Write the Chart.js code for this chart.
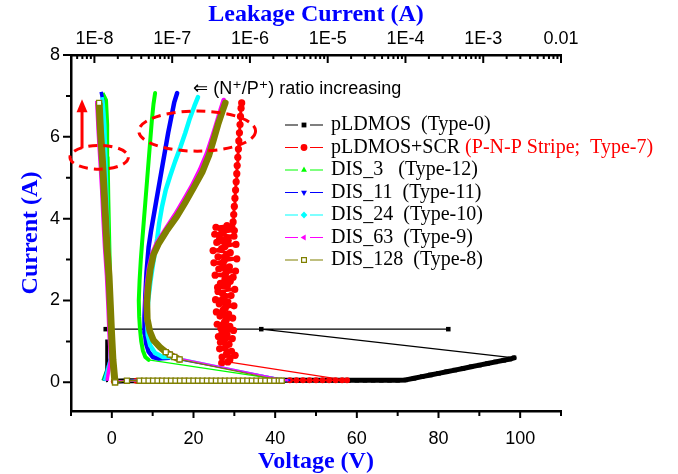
<!DOCTYPE html>
<html>
<head>
<meta charset="utf-8">
<title>TLP I-V and leakage</title>
<script src="https://cdn.jsdelivr.net/npm/chart.js@4.4.1/dist/chart.umd.min.js"></script>
<style>
  html, body { margin: 0; background: #ffffff; }
  canvas { display: block; }
</style>
</head>
<body>
<canvas id="tlp" width="678" height="474"></canvas>
<script>
// ---------- axes ----------
const X_TICKS = [0, 20, 40, 60, 80, 100];
const X_MINOR = [-10, 10, 30, 50, 70, 90, 110];
const Y_TICKS = [0, 2, 4, 6, 8];
const Y_MINOR = [1, 3, 5, 7];
const TOP_TICKS = [1e-8, 1e-7, 1e-6, 1e-5, 1e-4, 1e-3, 1e-2];
const TOP_LABELS = ['1E-8', '1E-7', '1E-6', '1E-5', '1E-4', '1E-3', '0.01'];

// ---------- legend text ----------
const NAMES = ['pLDMOS', 'pLDMOS+SCR', 'DIS_3', 'DIS_11', 'DIS_24', 'DIS_63', 'DIS_128'];
const GAPS = ['  ', ' ', '   ', '  ', '  ', '  ', '  '];
const TYPES = ['(Type-0)', '(P-N-P Stripe;  Type-7)', '(Type-12)', '(Type-11)', '(Type-10)', '(Type-9)', '(Type-8)'];

// ---------- TLP curves: voltage (V) / current (A) ----------
const PLD_V = [0.5, 4, 8, 12, 16, 20, 24, 28, 32, 36, 40,
  42, 44, 46, 48, 50, 52, 54, 56, 58, 60, 62, 64, 66, 68, 70, 72,
  74, 76, 78, 80, 82, 84, 86, 88, 90, 92, 94, 96, 97.5, 98.5,
  36.6, 82.4, -1.5];
const PLD_I = [0.03, 0.04, 0.04, 0.04, 0.04, 0.04, 0.04, 0.04, 0.04, 0.04, 0.04,
  0.05, 0.05, 0.05, 0.05, 0.05, 0.05, 0.05, 0.05, 0.05, 0.05, 0.05, 0.05, 0.05, 0.05, 0.05, 0.06,
  0.10, 0.14, 0.18, 0.22, 0.26, 0.30, 0.34, 0.38, 0.42, 0.46, 0.50, 0.54, 0.57, 0.60,
  1.30, 1.30, 1.30];

const SCR_V = [0.5, 6, 12, 18, 24, 30, 36, 40, 43.6, 45.2, 46.8, 48.4, 50.0, 51.6, 53.2, 54.8, 56.4, 57.6,
  28.4, 26.9, 28.9, 30.2, 27.0, 28.1, 29.3, 26.4, 27.9, 28.7,
  26.6, 27.4, 29.5, 26.1, 28.2, 27.0, 29.8, 26.7, 28.9, 25.8,
  27.6, 28.0, 29.6, 26.5, 28.6, 25.6, 27.3, 27.8, 29.9, 26.3,
  28.4, 25.4, 27.5, 29.2, 27.1, 26.0, 30.1, 25.9, 28.3, 26.6,
  29.0, 27.7, 29.7, 25.3, 27.9, 30.3, 26.2, 28.8, 27.2, 25.0,
  27.5, 30.6, 26.0, 28.1, 29.0, 24.8, 26.9, 27.7, 30.4, 25.7,
  28.5, 26.4, 29.9, 25.2, 27.3, 30.0, 26.8, 25.5, 28.2, 29.4,
  29.7, 29.85, 30.0, 30.15, 30.3, 30.45, 30.6, 30.7, 30.85, 31.0, 31.1, 31.25, 31.4, 31.5, 31.65, 31.8];
const SCR_I = [0.03, 0.04, 0.04, 0.04, 0.04, 0.04, 0.04, 0.04, 0.05, 0.05, 0.05, 0.05, 0.05, 0.05, 0.05, 0.05, 0.05, 0.05,
  0.50, 0.47, 0.55, 0.66, 0.62, 0.70, 0.76, 0.82, 0.88, 0.93,
  0.98, 1.03, 1.07, 1.12, 1.17, 1.22, 1.27, 1.32, 1.37, 1.42,
  1.47, 1.52, 1.57, 1.62, 1.67, 1.72, 1.77, 1.82, 1.87, 1.92,
  1.97, 2.02, 2.07, 2.12, 2.17, 2.22, 2.27, 2.32, 2.37, 2.42,
  2.47, 2.52, 2.57, 2.62, 2.67, 2.72, 2.77, 2.82, 2.87, 2.92,
  2.97, 3.02, 3.07, 3.12, 3.17, 3.22, 3.27, 3.32, 3.37, 3.42,
  3.47, 3.52, 3.57, 3.62, 3.67, 3.71, 3.75, 3.79, 3.83, 3.80,
  3.92, 4.1, 4.3, 4.5, 4.7, 4.9, 5.1, 5.3, 5.5, 5.7, 5.9, 6.1, 6.3, 6.5, 6.7, 6.83];

const D3_V = [0.5, 5, 10, 15, 20, 25, 30, 35, 40, 42.5,
  9.0, 8.2, 7.6, 7.2, 6.9, 6.7, 6.6, 6.8, 7.1, 7.4, 7.8, 8.2, 8.6, 9.0, 9.4, 9.8, 10.2, 10.6];
const D3_I = [0.03, 0.04, 0.04, 0.04, 0.04, 0.04, 0.04, 0.04, 0.05, 0.05,
  0.55, 0.62, 0.78, 1.0, 1.3, 1.6, 2.0, 2.5, 3.0, 3.4, 3.9, 4.4, 4.9, 5.4, 5.9, 6.4, 6.8, 7.07];

const D11_V = [0.5, 5, 10, 15, 20, 25, 30, 35, 40, 43.5,
  14.0, 11.5, 10.0, 9.0, 8.4, 8.1, 8.0, 8.2, 8.5, 9.0, 9.6, 10.3, 11.0, 11.7, 12.4, 13.1, 13.8, 14.6, 15.3, 16.0];
const D11_I = [0.03, 0.04, 0.04, 0.04, 0.04, 0.04, 0.04, 0.04, 0.05, 0.05,
  0.60, 0.58, 0.62, 0.75, 0.95, 1.2, 1.6, 2.1, 2.7, 3.3, 3.7, 4.1, 4.5, 4.9, 5.3, 5.7, 6.1, 6.5, 6.85, 7.07];

const D24_V = [0.5, 5, 10, 15, 20, 25, 30, 35, 40, 43.0,
  15.5, 12.5, 10.6, 9.4, 8.8, 8.6, 8.9, 9.5, 10.1, 10.6, 11.1, 11.6, 12.3, 13.2, 14.3, 15.5, 16.8, 18.0, 19.1, 20.2, 21.1];
const D24_I = [0.03, 0.04, 0.04, 0.04, 0.04, 0.04, 0.04, 0.04, 0.05, 0.05,
  0.62, 0.62, 0.72, 0.9, 1.15, 1.5, 2.0, 2.5, 2.9, 3.2, 3.5, 3.9, 4.3, 4.7, 5.05, 5.4, 5.75, 6.1, 6.45, 6.75, 6.97];

const D63_V = [0.5, 5, 10, 15, 20, 25, 30, 35, 40, 43.0,
  16.2, 14.0, 11.8, 10.0, 9.0, 8.4, 8.3, 8.6, 9.1, 9.9, 11.0, 13.0, 15.5, 17.6, 19.6, 21.6, 23.3, 24.6, 25.7, 26.6, 27.4];
const D63_I = [0.03, 0.04, 0.04, 0.04, 0.04, 0.04, 0.04, 0.04, 0.05, 0.05,
  0.60, 0.72, 0.86, 1.06, 1.3, 1.6, 2.0, 2.4, 2.8, 3.15, 3.4, 3.72, 4.1, 4.45, 4.8, 5.2, 5.6, 6.0, 6.35, 6.65, 6.9];

const D128_V = [0.8, 3.7, 6.8, 7.9, 9.0, 10.1, 11.2, 12.3, 13.4, 14.5, 15.6, 16.7, 17.8, 18.9, 20.0, 21.1,
  22.2, 23.3, 24.4, 25.5, 26.6, 27.7, 28.8, 29.9, 31.0, 32.1, 33.2, 34.3, 35.4, 36.5, 37.6, 38.7, 39.8, 40.9, 41.6,
  16.6, 15.3, 14.2, 13.2, 11.8, 10.2, 9.3, 8.7, 8.6, 8.9, 9.4, 10.2, 11.4, 13.4, 15.9, 18.0, 20.0, 22.2,
  23.8, 25.0, 26.0, 27.0, 27.8];
const D128_I = [0.0, 0.04, 0.04, 0.04, 0.04, 0.04, 0.04, 0.04, 0.04, 0.04, 0.04, 0.04, 0.04, 0.04, 0.04, 0.04,
  0.04, 0.04, 0.04, 0.04, 0.04, 0.04, 0.04, 0.04, 0.04, 0.04, 0.04, 0.04, 0.04, 0.04, 0.04, 0.04, 0.04, 0.04, 0.04,
  0.56, 0.62, 0.68, 0.74, 0.86, 1.03, 1.25, 1.55, 1.95, 2.35, 2.75, 3.12, 3.38, 3.70, 4.05, 4.40, 4.75, 5.15,
  5.55, 5.95, 6.30, 6.60, 6.83];

// ---------- leakage after each pulse: leakage (A) / current (A) ----------
const LK_PLD_A = [1.41e-8, 1.45e-8, 1.44e-8, 1.43e-8];
const LK_PLD_I = [0.04, 0.45, 0.75, 1.05];
const LK_SCR_A = [];
const LK_SCR_I = [];
const LK_D3_A = [1.29e-8, 1.65e-8, 1.63e-8, 1.60e-8, 1.56e-8, 1.52e-8, 1.49e-8, 1.47e-8, 1.42e-8, 1.28e-8];
const LK_D3_I = [0.04, 0.6, 1.5, 2.5, 3.5, 4.5, 5.5, 6.3, 6.9, 7.07];
const LK_D11_A = [1.33e-8, 1.62e-8, 1.58e-8, 1.54e-8, 1.48e-8, 1.42e-8, 1.37e-8, 1.33e-8, 1.28e-8, 1.22e-8];
const LK_D11_I = [0.04, 0.6, 1.5, 2.5, 3.5, 4.5, 5.5, 6.3, 6.9, 7.1];
const LK_D24_A = [1.35e-8, 1.63e-8, 1.60e-8, 1.56e-8, 1.51e-8, 1.45e-8, 1.40e-8, 1.36e-8, 1.30e-8, 1.25e-8];
const LK_D24_I = [0.04, 0.6, 1.5, 2.5, 3.5, 4.5, 5.5, 6.3, 6.8, 6.97];
const LK_D63_A = [1.45e-8, 1.61e-8, 1.54e-8, 1.49e-8, 1.43e-8, 1.35e-8, 1.29e-8, 1.24e-8, 1.18e-8, 1.12e-8, 1.07e-8];
const LK_D63_I = [0.04, 0.55, 1.2, 1.9, 2.6, 3.3, 4.0, 4.7, 5.4, 6.1, 6.88];
const LK_D128_A = [1.84e-8, 1.73e-8, 1.66e-8, 1.60e-8, 1.54e-8, 1.45e-8, 1.39e-8, 1.33e-8, 1.27e-8, 1.20e-8, 1.15e-8];
const LK_D128_I = [0.0, 0.55, 1.2, 1.9, 2.6, 3.3, 4.0, 4.7, 5.4, 6.1, 6.83];

// ---------- styling ----------
const COLORS = ['#000000', '#ff0000', '#00ff00', '#0000ff', '#00ffff', '#ff00ff', '#808000'];
const MARKERS = ['rect', 'circle', 'triangle', 'triangle', 'rectRot', 'triangle', 'rect'];
const MARKER_ROT = [0, 0, 0, 180, 0, 270, 0];
const CURVE_W = [5, 3, 4, 4.5, 4.5, 4.5, 6.5];   // densely sampled stretches
const FLAT_W = [5, 1.5, 2, 2, 2, 2, 1.5];        // pre-snapback stretch along 0 A
const LEAK_W = [3, 3, 3.5, 3.5, 3.5, 3.5, 7];

const TLP = [[PLD_V, PLD_I], [SCR_V, SCR_I], [D3_V, D3_I], [D11_V, D11_I], [D24_V, D24_I], [D63_V, D63_I], [D128_V, D128_I]];
const LEAK = [[LK_PLD_A, LK_PLD_I], [LK_SCR_A, LK_SCR_I], [LK_D3_A, LK_D3_I], [LK_D11_A, LK_D11_I],
  [LK_D24_A, LK_D24_I], [LK_D63_A, LK_D63_I], [LK_D128_A, LK_D128_I]];

const toPoints = (xs, ys) => xs.map((x, k) => ({ x, y: ys[k] }));

// long jumps between pulses are thin, dense runs are drawn heavy
function segWidth(s) {
  return ctx => {
    const p0 = ctx.p0, p1 = ctx.p1;
    if (Math.hypot(p1.x - p0.x, p1.y - p0.y) > 30) return 1.2;
    const yFlat = ctx.chart.scales.y.getPixelForValue(0.12);
    if (p0.y > yFlat && p1.y > yFlat) return FLAT_W[s];
    return CURVE_W[s];
  };
}

function markerRadius(s) {
  return ctx => {
    if (s === 0) return 3.2;
    if (s === 1) return ctx.raw && ctx.raw.y > 0.3 ? 3.6 : 3;
    if (s === 6) return ctx.raw && ctx.raw.y < 0.75 ? 3.6 : 0;
    return 0;
  };
}

const datasets = [];
TLP.forEach(([v, i], s) => {
  datasets.push({
    label: NAMES[s],
    data: toPoints(v, i),
    xAxisID: 'x', yAxisID: 'y',
    showLine: true,
    borderColor: COLORS[s],
    backgroundColor: s === 6 ? '#ffffff' : COLORS[s],
    borderWidth: CURVE_W[s],
    borderJoinStyle: 'round',
    borderCapStyle: 'round',
    segment: { borderWidth: segWidth(s) },
    pointStyle: MARKERS[s],
    rotation: MARKER_ROT[s],
    pointRadius: markerRadius(s),
    pointBorderWidth: s === 6 ? 1.3 : 0,
    pointBorderColor: COLORS[s],
    pointBackgroundColor: s === 6 ? '#ffffff' : COLORS[s],
    order: 6 - s
  });
});
LEAK.forEach(([a, i], s) => {
  if (!a.length) return;
  datasets.push({
    label: NAMES[s] + ' leakage',
    data: toPoints(a, i),
    xAxisID: 'xTop', yAxisID: 'y',
    showLine: true,
    borderColor: COLORS[s],
    borderWidth: LEAK_W[s],
    borderJoinStyle: 'round',
    pointStyle: 'rect',
    pointRadius: ctx => (s === 6 && (ctx.dataIndex === 0 || ctx.dataIndex === a.length - 1)) ? 3.6 : 0,
    pointBorderWidth: 1.3,
    pointBorderColor: COLORS[s],
    pointBackgroundColor: '#ffffff',
    order: 6 - s
  });
});

// ---------- annotations (data coordinates of the lower/left axes) ----------
const RINGS = [
  { v: -3.1, i: 5.50, dv: 7.15, di: 0.29 },
  { v: 20.9, i: 6.14, dv: 14.3, di: 0.49 }
];
const ARROW = { v: -7.3, from: 5.72, to: 6.92 };
const NOTE = { v: 19.9, i: 7.17, text: '\u21D0 (N\u207A/P\u207A) ratio increasing' };
const LEGEND_X = 285, LEGEND_Y = 125, LEGEND_STEP = 22.5;

const decorations = {
  id: 'decorations',
  afterDraw(chart) {
    const { ctx, chartArea: area, scales } = chart;
    const x = scales.x, y = scales.y, top = scales.xTop;
    ctx.save();

    // tick marks
    ctx.strokeStyle = '#000';
    ctx.lineWidth = 2;
    ctx.beginPath();
    const down = (px, y0, len) => { ctx.moveTo(px, y0); ctx.lineTo(px, y0 + len); };
    X_TICKS.forEach(v => down(x.getPixelForValue(v), area.bottom, 7));
    X_MINOR.forEach(v => down(x.getPixelForValue(v), area.bottom, 5));
    Y_TICKS.forEach(v => { const py = y.getPixelForValue(v); ctx.moveTo(area.left, py); ctx.lineTo(area.left - 8, py); });
    Y_MINOR.forEach(v => { const py = y.getPixelForValue(v); ctx.moveTo(area.left, py); ctx.lineTo(area.left - 5, py); });
    TOP_TICKS.forEach(v => down(top.getPixelForValue(v), area.top, 8));
    for (let d = 1e-9; d < 1e-2; d *= 10) {
      for (let m = 2; m <= 9; m++) {
        const v = m * d;
        if (v >= top.min && v <= top.max) down(top.getPixelForValue(v), area.top, 4);
      }
    }
    ctx.stroke();

    // dashed rings
    ctx.strokeStyle = '#ff0000';
    ctx.lineWidth = 3;
    ctx.setLineDash([9, 6]);
    RINGS.forEach(r => {
      const cx = x.getPixelForValue(r.v), cy = y.getPixelForValue(r.i);
      const rx = x.getPixelForValue(r.v + r.dv) - cx;
      const ry = cy - y.getPixelForValue(r.i + r.di);
      ctx.beginPath();
      ctx.ellipse(cx, cy, rx, ry, 0, 0, Math.PI * 2);
      ctx.stroke();
    });
    ctx.setLineDash([]);

    // upward arrow
    const ax = x.getPixelForValue(ARROW.v);
    const ay0 = y.getPixelForValue(ARROW.from), ay1 = y.getPixelForValue(ARROW.to);
    ctx.beginPath();
    ctx.moveTo(ax, ay0);
    ctx.lineTo(ax, ay1 + 10);
    ctx.stroke();
    ctx.fillStyle = '#ff0000';
    ctx.beginPath();
    ctx.moveTo(ax, ay1);
    ctx.lineTo(ax - 5.5, ay1 + 13);
    ctx.lineTo(ax + 5.5, ay1 + 13);
    ctx.closePath();
    ctx.fill();

    // note
    ctx.fillStyle = '#000';
    ctx.font = '18px "Liberation Sans", "DejaVu Sans", sans-serif';
    ctx.textBaseline = 'middle';
    ctx.textAlign = 'left';
    ctx.fillText(NOTE.text, x.getPixelForValue(NOTE.v), y.getPixelForValue(NOTE.i));

    // legend
    ctx.font = '20px "Liberation Serif", "Times New Roman", serif';
    NAMES.forEach((name, s) => {
      const ly = LEGEND_Y + s * LEGEND_STEP;
      ctx.strokeStyle = COLORS[s];
      ctx.lineWidth = 1.2;
      ctx.beginPath();
      ctx.moveTo(LEGEND_X, ly); ctx.lineTo(LEGEND_X + 13, ly);
      ctx.moveTo(LEGEND_X + 25, ly); ctx.lineTo(LEGEND_X + 38, ly);
      ctx.stroke();
      ctx.fillStyle = s === 6 ? '#ffffff' : COLORS[s];
      ctx.strokeStyle = COLORS[s];
      Chart.helpers.drawPoint(ctx, {
        pointStyle: MARKERS[s], rotation: MARKER_ROT[s],
        radius: 3.4, borderWidth: s === 6 ? 1.2 : 0
      }, LEGEND_X + 19, ly);
      ctx.fillStyle = '#000';
      const head = name + GAPS[s];
      ctx.fillText(s === 1 ? head : head + TYPES[s], LEGEND_X + 46, ly);
      if (s === 1) {
        ctx.fillStyle = '#ff0000';
        ctx.fillText(TYPES[s], LEGEND_X + 46 + ctx.measureText(head).width, ly);
      }
    });
    ctx.restore();
  }
};

const tickFont = { family: '"Liberation Sans", Arial, sans-serif', size: 18 };
const titleFont = { family: '"Liberation Serif", "Times New Roman", serif', size: 24, weight: 'bold', lineHeight: 1 };

new Chart(document.getElementById('tlp'), {
  type: 'scatter',
  data: { datasets },
  options: {
    responsive: false,
    animation: false,
    events: [],
    devicePixelRatio: 1,
    layout: { padding: { left: 0, top: 0, right: 117, bottom: 0 } },
    plugins: { legend: { display: false }, tooltip: { enabled: false } },
    elements: { line: { tension: 0, fill: false } },
    scales: {
      x: {
        type: 'linear', position: 'bottom', min: -10, max: 110,
        afterBuildTicks: s => { s.ticks = X_TICKS.map(value => ({ value })); },
        afterFit: s => { s.height = 63; },
        grid: { display: false, drawTicks: false },
        border: { display: true, color: '#000', width: 2.5 },
        ticks: { color: '#000', font: tickFont, padding: 17, autoSkip: false, maxRotation: 0 },
        title: { display: true, text: 'Voltage (V)', color: '#0000ff', font: titleFont, padding: { top: 0, bottom: 0 } }
      },
      xTop: {
        type: 'logarithmic', axis: 'x', position: 'top', min: 5e-9, max: 1e-2,
        afterBuildTicks: s => { s.ticks = TOP_TICKS.map(value => ({ value })); },
        afterFit: s => { s.height = 55; },
        grid: { display: false, drawTicks: false },
        border: { display: true, color: '#000', width: 2.5 },
        ticks: { color: '#000', font: tickFont, padding: 5, autoSkip: false, maxRotation: 0,
          callback: (value, index) => TOP_LABELS[index] },
        title: { display: true, text: 'Leakage Current (A)', color: '#0000ff', font: titleFont, padding: { top: 3, bottom: 0 } }
      },
      y: {
        type: 'linear', position: 'left', min: -0.7, max: 8,
        afterBuildTicks: s => { s.ticks = Y_TICKS.map(value => ({ value })); },
        afterFit: s => { s.width = 71; },
        grid: { display: false, drawTicks: false },
        border: { display: true, color: '#000', width: 2.5 },
        ticks: { color: '#000', font: tickFont, padding: 11 },
        title: { display: true, text: 'Current (A)', color: '#0000ff', font: titleFont, padding: { top: 19, bottom: 0 } }
      }
    }
  },
  plugins: [decorations]
});
</script>
</body>
</html>
